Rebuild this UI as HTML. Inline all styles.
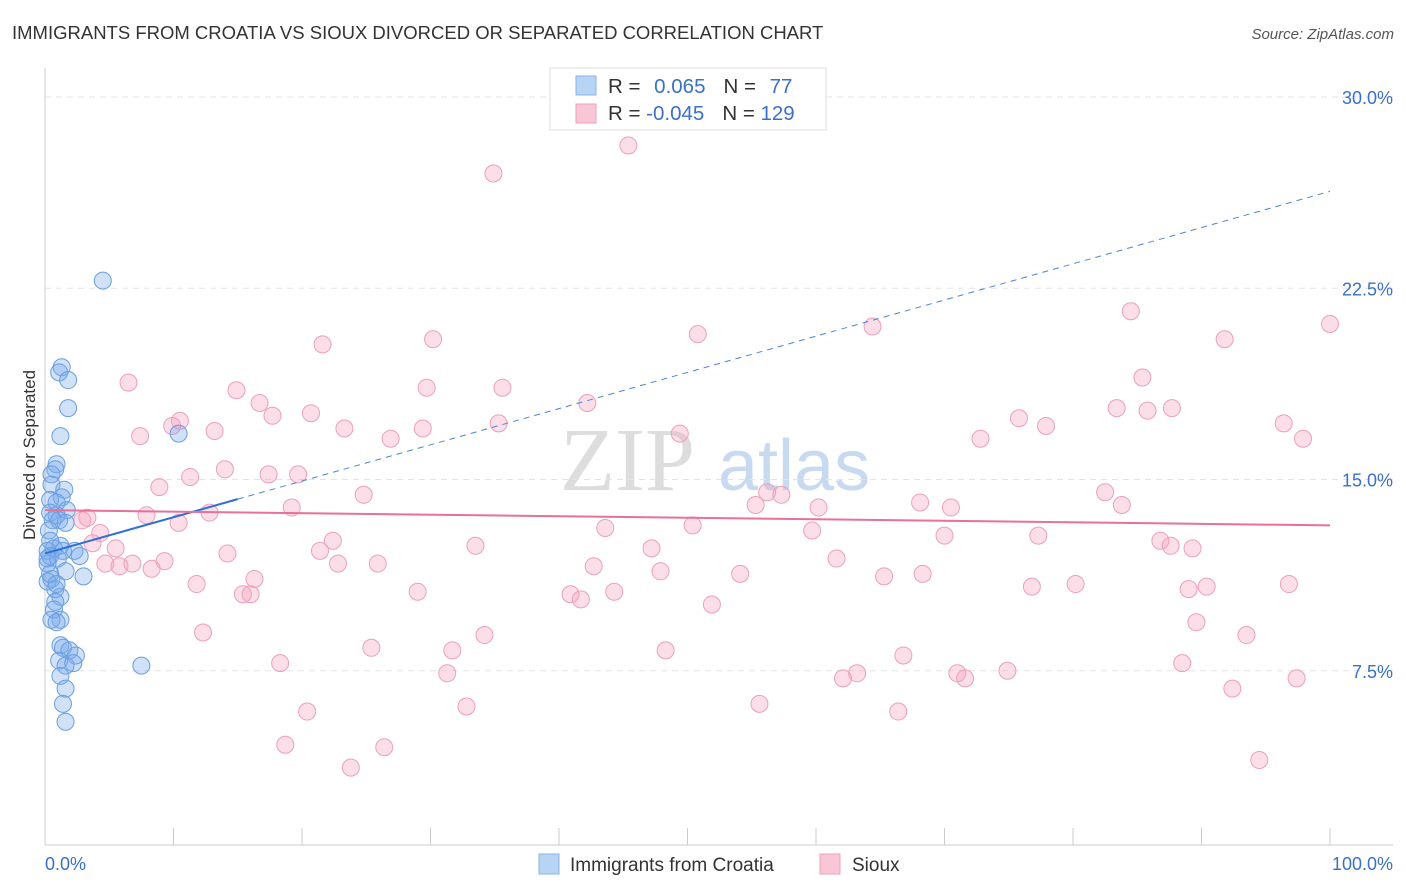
<!DOCTYPE html>
<html><head><meta charset="utf-8"><style>
body{margin:0;background:#fff;font-family:"Liberation Sans",sans-serif}
svg{display:block}
</style></head><body>
<svg id="chart" width="1406" height="892">
<text x="12" y="39" font-size="18.5" fill="#333">IMMIGRANTS FROM CROATIA VS SIOUX DIVORCED OR SEPARATED CORRELATION CHART</text>
<text x="1394" y="39" font-size="15" fill="#555" text-anchor="end" font-style="italic">Source: ZipAtlas.com</text>
<text x="35" y="455" font-size="17" fill="#333" text-anchor="middle" transform="rotate(-90 35 455)">Divorced or Separated</text>
<text x="560" y="490" font-size="90" fill="#ddd" font-family="Liberation Serif,serif">ZIP</text>
<text x="718" y="490" font-size="72" fill="#c8daf0">atlas</text>
<g id="grid"></g><g id="pts"></g><g id="trend"></g>
<g>
<rect x="550" y="68" width="276" height="62" fill="#fff" stroke="#ddd"/>
<rect x="576" y="76" width="20" height="19" fill="#b7d4f5" stroke="#88b4e8"/>
<rect x="576" y="104" width="20" height="19" fill="#f9c6d6" stroke="#eea0b9"/>
<text x="608" y="93" font-size="20.5" fill="#333">R = <tspan fill="#3a70c9" dx="8">0.065</tspan><tspan fill="#333" dx="18">N = </tspan><tspan fill="#3a70c9" dx="8">77</tspan></text>
<text x="608" y="120" font-size="20.5" fill="#333">R = <tspan fill="#3a70c9">-0.045</tspan><tspan fill="#333" dx="18">N = </tspan><tspan fill="#3a70c9">129</tspan></text>
</g>
<g>
<rect x="539" y="854" width="20" height="20" fill="#b7d4f5" stroke="#88b4e8"/>
<text x="570" y="871" font-size="19" fill="#333">Immigrants from Croatia</text>
<rect x="820" y="854" width="20" height="20" fill="#f9c6d6" stroke="#eea0b9"/>
<text x="852" y="871" font-size="19" fill="#333">Sioux</text>
</g>
<text x="45" y="870" font-size="18" fill="#3a70c9">0.0%</text>
<text x="1393" y="870" font-size="18" fill="#3a70c9" text-anchor="end">100.0%</text>
</svg>
<script>
const yTicks=[7.5,15,22.5,30];
const yTickLabels=["7.5%","15.0%","22.5%","30.0%"];
const xTicks=[0,10,20,30,40,50,60,70,80,90,100];
const croatiaX=[4.5,1.3,1.1,1.8,1.8,1.2,10.4,0.9,0.8,0.5,0.5,1.5,1.3,0.4,0.9,1.7,0.4,0.9,0.6,1.1,1.6,0.3,0.4,1.2,0.7,0.2,1.4,2.3,2.7,0.4,1.0,0.2,1.6,3.0,0.5,0.2,0.8,1.2,0.8,0.7,1.2,0.5,0.9,1.2,1.4,1.9,2.4,1.1,1.6,2.2,7.5,1.2,1.6,1.4,1.6,0.2,0.4,0.9];
const croatiaY=[22.8,19.4,19.2,18.9,17.8,16.7,16.8,15.6,15.4,15.2,14.8,14.6,14.3,14.2,14.1,13.8,13.7,13.6,13.4,13.4,13.3,13.0,12.6,12.4,12.3,12.2,12.2,12.2,12.0,12.0,11.9,11.7,11.4,11.2,11.1,11.0,10.7,10.4,10.2,9.9,9.5,9.5,9.4,8.5,8.4,8.3,8.1,7.9,7.7,7.8,7.7,7.3,6.8,6.2,5.5,11.9,11.3,10.9];
const siouxX=[45.4,34.9,50.8,64.4,84.5,100,91.8,30.2,21.6,6.5,14.9,29.7,35.6,85.4,42.2,16.7,20.7,17.7,10.5,9.9,13.2,23.3,26.9,29.4,35.3,7.4,83.4,85.8,87.7,75.8,77.9,96.4,97.9,72.8,49.4,14.0,11.3,17.4,19.7,8.9,24.8,56.2,57.3,82.5,68.1,70.5,83.8,55.3,60.2,12.8,7.9,19.2,10.4,3.3,2.9,4.3,43.6,50.4,59.7,70.0,77.3,86.8,87.6,89.3,22.4,21.4,33.5,47.2,5.5,3.7,14.2,6.8,4.7,5.8,8.3,9.3,22.8,25.9,42.7,47.9,54.1,61.6,65.3,68.3,96.8,80.2,76.8,90.4,89.0,11.8,16.3,15.4,16.0,29.0,40.9,41.7,44.3,51.9,12.3,34.2,89.6,93.5,25.4,31.7,48.3,66.8,74.9,71.6,63.2,18.3,31.3,88.5,62.1,71.0,97.4,92.4,20.4,32.8,55.6,66.4,18.7,26.4,23.8,94.5];
const siouxY=[28.1,27.0,20.7,21.0,21.6,21.1,20.5,20.5,20.3,18.8,18.5,18.6,18.6,19.0,18.0,18.0,17.6,17.5,17.3,17.1,16.9,17.0,16.6,17.0,17.2,16.7,17.8,17.7,17.8,17.4,17.1,17.2,16.6,16.6,16.8,15.4,15.1,15.2,15.2,14.7,14.4,14.5,14.4,14.5,14.1,13.9,14.0,14.0,13.9,13.7,13.6,13.9,13.3,13.5,13.4,12.9,13.1,13.2,13.0,12.8,12.8,12.6,12.4,12.3,12.6,12.2,12.4,12.3,12.3,12.5,12.1,11.7,11.7,11.6,11.5,11.8,11.7,11.7,11.6,11.4,11.3,11.9,11.2,11.3,10.9,10.9,10.8,10.8,10.7,10.9,11.1,10.5,10.5,10.6,10.5,10.3,10.6,10.1,9.0,8.9,9.4,8.9,8.4,8.3,8.3,8.1,7.5,7.2,7.4,7.8,7.4,7.8,7.2,7.4,7.2,6.8,5.9,6.1,6.2,5.9,4.6,4.5,3.7,4.0];
const croatiaTrend=[12.1,26.3];
const siouxTrend=[13.8,13.2];
const NS="http://www.w3.org/2000/svg";
const X0=45,X1=1330,Y0=862,PX=25.5;
const sx=v=>X0+(X1-X0)*v/100, sy=v=>Y0-v*PX;
function mk(t,a,p){const e=document.createElementNS(NS,t);for(const k in a)e.setAttribute(k,a[k]);p.appendChild(e);return e;}
const grid=document.getElementById('grid');
const ax=mk('line',{x1:45,y1:68,x2:45,y2:845,stroke:'#ccc'},grid);


const bx=mk('line',{x1:45,y1:845,x2:1393,y2:845,stroke:'#ccc'},grid);


yTicks.forEach((v,i)=>{
 const l=mk('line',{x1:45,x2:1393,y1:sy(v),y2:sy(v),stroke:'#e3e3e3','stroke-dasharray':'6,5'},grid);
 
 
 const t=mk('text',{x:1393,y:sy(v)+7,'font-size':18,fill:'#3a70c9','text-anchor':'end'},grid);
 t.textContent=yTickLabels[i];
 
 
});
xTicks.forEach(v=>{
 const l=mk('line',{x1:sx(v),x2:sx(v),y1:828,y2:845,stroke:'#ccc'},grid);
 
 
});
const pts=document.getElementById('pts');
siouxX.forEach((v,i)=>{
 const c=mk('circle',{cx:sx(v),cy:sy(siouxY[i]),r:8.5,fill:'rgba(245,160,190,0.35)',stroke:'#eca0bb','stroke-width':1},pts);
 
 
});
croatiaX.forEach((v,i)=>{
 const c=mk('circle',{cx:sx(v),cy:sy(croatiaY[i]),r:8.5,fill:'rgba(120,170,235,0.35)',stroke:'#6a9fe0','stroke-width':1},pts);
 
 
});
const tr=document.getElementById('trend');
const cy=x=>croatiaTrend[0]+(croatiaTrend[1]-croatiaTrend[0])*x/100;
const l1=mk('line',{x1:sx(0),y1:sy(cy(0)),x2:sx(15),y2:sy(cy(15)),stroke:'#2f6fd6','stroke-width':2},tr);


const l2=mk('line',{x1:sx(15),y1:sy(cy(15)),x2:sx(100),y2:sy(cy(100)),stroke:'#4a84dc','stroke-width':1,'stroke-dasharray':'6,5'},tr);


const l3=mk('line',{x1:sx(0),y1:sy(siouxTrend[0]),x2:sx(100),y2:sy(siouxTrend[1]),stroke:'#e8709a','stroke-width':2},tr);


</script>
</body></html>
